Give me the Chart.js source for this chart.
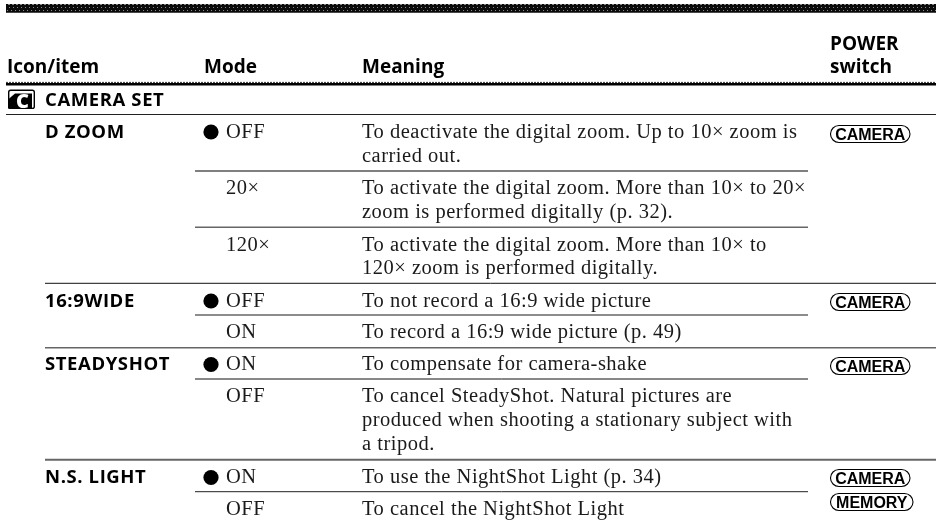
<!DOCTYPE html>
<html>
<head>
<meta charset="utf-8">
<style>
  html, body { margin: 0; padding: 0; background: #fff; }
  canvas { display: block; }
</style>
<script src="https://cdn.jsdelivr.net/npm/chart.js@4"></script>
</head>
<body>
<canvas id="table" width="936" height="523"></canvas>
<script>
// page is a table, so both axes just run in page units
const headerLabels = ['Icon/item', 'Mode', 'Meaning', 'POWER', 'switch']
const headerCols = [7, 204, 362, 830, 830]
const headerRows = [73, 73, 73, 50, 73]

const sectionLabel = 'CAMERA SET'
const sectionRow = 106

const itemLabels = ['D ZOOM', '16:9WIDE', 'STEADYSHOT', 'N.S. LIGHT']
const itemRows = [137.5, 306.5, 370, 483]

const modeLabels = ['OFF', '20×', '120×', 'OFF', 'ON', 'ON', 'OFF', 'ON', 'OFF']
const modeRows = [137.5, 194, 250.5, 306.5, 338, 370, 402, 483, 515]

const defaultRows = [132, 301, 364.5, 477.5]

const meaningLines = [
  'To deactivate the digital zoom. Up to 10× zoom is',
  'carried out.',
  'To activate the digital zoom. More than 10× to 20×',
  'zoom is performed digitally (p. 32).',
  'To activate the digital zoom. More than 10× to',
  '120× zoom is performed digitally.',
  'To not record a 16:9 wide picture',
  'To record a 16:9 wide picture (p. 49)',
  'To compensate for camera-shake',
  'To cancel SteadyShot. Natural pictures are',
  'produced when shooting a stationary subject with',
  'a tripod.',
  'To use the NightShot Light (p. 34)',
  'To cancel the NightShot Light'
]
const meaningRows = [137.5, 162, 194, 217.5, 250.5, 274, 306.5, 338, 370, 402, 425.5, 450, 483, 515]

const switchLabels = ['CAMERA', 'CAMERA', 'CAMERA', 'CAMERA', 'MEMORY']
const switchRows = [134, 302, 366, 478, 502]

const fullRules = [114.5, 283.3, 347.7, 459.7]
const fullRuleStarts = [6, 45, 45, 45]
const midRules = [171, 227.3, 315, 379, 491.7]
const midRuleStart = 195
const midRuleEnd = 808
const pageEnd = 936

// dithered look of the top band
function bandPattern() {
  const c = document.createElement('canvas')
  c.width = 16
  c.height = 9
  const p = c.getContext('2d')
  p.fillStyle = '#0a0a0a'
  p.fillRect(0, 0, 16, 9)
  p.fillStyle = '#8a8a8a'
  for (let i = 0; i < 16; i += 4) {
    p.fillRect(i, 4, 2, 1)
    p.fillRect(i + 1, 7, 1, 1)
    p.fillRect((i + 3) % 16, 1, 1, 1)
  }
  return p.createPattern(c, 'repeat')
}

const rule = (y, from, to, color, width) => ({
  data: [{ x: from, y }, { x: to, y }],
  borderColor: color,
  borderWidth: width
})

const midStyles = [['#555', 1.3], ['#666', 1.6], ['#666', 1.6], ['#111', 1], ['#222', 1]]
const fullStyles = [['#222', 1], ['#111', 1], ['#666', 1.5], ['#666', 2]]

const datasets = [
  rule(8.4, 6, pageEnd, bandPattern(), 8.6),
  rule(84.3, 6, pageEnd, '#000', 2.6),
  { ...rule(82.4, 6, pageEnd, '#333', 1), borderDash: [2, 1] },
  ...fullRules.map((y, i) => rule(y, fullRuleStarts[i], pageEnd, fullStyles[i][0], fullStyles[i][1])),
  ...midRules.map((y, i) => rule(y, midRuleStart, midRuleEnd, midStyles[i][0], midStyles[i][1])),
  {
    data: defaultRows.map(y => ({ x: 211, y })),
    showLine: false,
    pointRadius: 7.6,
    pointBackgroundColor: '#000',
    pointBorderWidth: 0
  }
]

const SANS = '"Open Sans"'
const SERIF = '"Liberation Serif"'

const tablePainter = {
  id: 'tablePainter',
  afterDatasetsDraw(chart) {
    const ctx = chart.ctx
    const sx = chart.scales.x
    const sy = chart.scales.y
    const put = (txt, x, y) => ctx.fillText(txt, sx.getPixelForValue(x), sy.getPixelForValue(y))

    ctx.save()
    ctx.textBaseline = 'alphabetic'
    ctx.fillStyle = '#000'

    ctx.font = '700 19px ' + SANS
    headerLabels.forEach((t, i) => put(t, headerCols[i], headerRows[i]))
    ctx.font = '700 18.5px ' + SANS
    ctx.letterSpacing = '0.6px'
    put(sectionLabel, 45, sectionRow)
    itemLabels.forEach((t, i) => put(t, 45, itemRows[i]))

    ctx.fillStyle = '#1a1a1a'
    ctx.font = '20.5px ' + SERIF
    ctx.letterSpacing = '0.5px'
    modeLabels.forEach((t, i) => put(t, 226, modeRows[i]))
    meaningLines.forEach((t, i) => put(t, 362, meaningRows[i]))
    ctx.letterSpacing = '0px'

    // switch pills
    ctx.fillStyle = '#000'
    ctx.strokeStyle = '#000'
    ctx.lineWidth = 1.1
    ctx.textAlign = 'center'
    ctx.font = '700 16px "Liberation Sans"'
    switchLabels.forEach((t, i) => {
      const right = t === 'MEMORY' ? 913 : 910
      const left = sx.getPixelForValue(830.5)
      const r = sx.getPixelForValue(right)
      const mid = sy.getPixelForValue(switchRows[i])
      ctx.beginPath()
      ctx.roundRect(left, mid - 8.5, r - left, 17, 8.5)
      ctx.stroke()
      ctx.fillText(t, (left + r) / 2, mid + 6)
    })
    ctx.textAlign = 'left'

    // camera icon in front of the section name
    const ix = sx.getPixelForValue(8)
    const iy = sy.getPixelForValue(89.5)
    ctx.lineWidth = 1.4
    ctx.beginPath()
    ctx.roundRect(ix + 0.7, iy + 0.7, 25.6, 18.2, 2)
    ctx.stroke()
    ctx.beginPath()
    ctx.moveTo(ix + 7, iy + 4)
    ctx.lineTo(ix + 24, iy + 4)
    ctx.lineTo(ix + 24, iy + 19)
    ctx.lineTo(ix, iy + 19)
    ctx.lineTo(ix, iy + 10)
    ctx.closePath()
    ctx.fill()
    ctx.fillStyle = '#fff'
    ctx.font = '800 20px ' + SANS
    ctx.textAlign = 'center'
    ctx.fillText('C', ix + 14.5, iy + 18.5)
    ctx.restore()
  }
}

new Chart(document.getElementById('table'), {
  type: 'scatter',
  data: { datasets },
  options: {
    responsive: false,
    animation: false,
    showLine: true,
    pointRadius: 0,
    layout: { padding: 0, autoPadding: false },
    plugins: { legend: { display: false }, tooltip: { enabled: false }, title: { display: false } },
    scales: {
      x: { type: 'linear', min: 0, max: 936, display: false },
      y: { type: 'linear', min: 0, max: 523, reverse: true, display: false }
    }
  },
  plugins: [tablePainter]
})
</script>
</body>
</html>
